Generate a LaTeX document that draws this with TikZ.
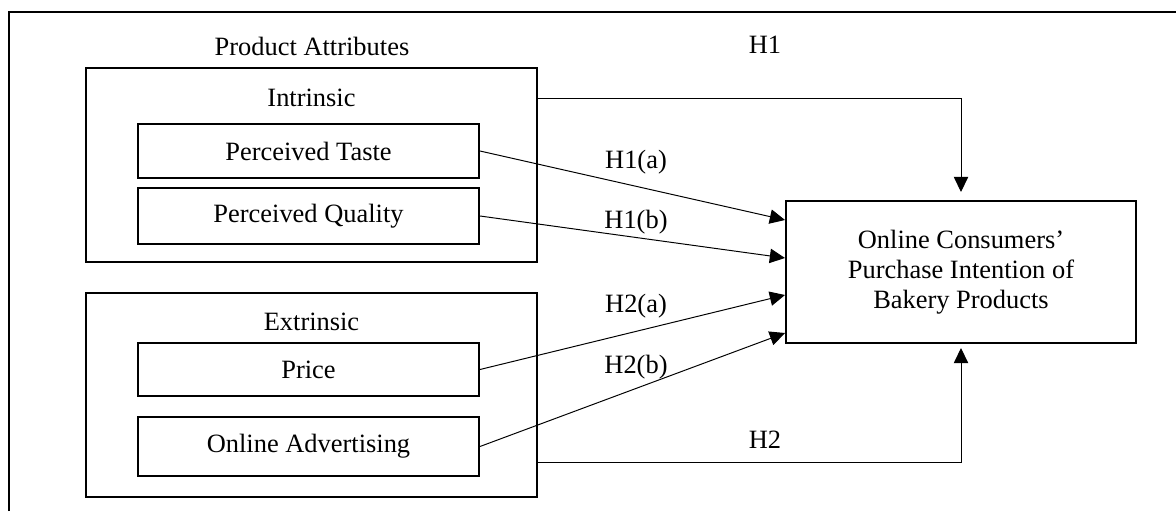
\documentclass[tikz,border=0pt]{standalone}
\usepackage{fontspec}
\setmainfont{Liberation Serif}
\usetikzlibrary{arrows.meta}
\tikzset{
  txt/.style={inner sep=0pt, font=\fontsize{18.8}{21.3}\selectfont},
  groupbox/.style={draw, line width=1.4pt, inner sep=0pt, minimum width=11.275cm},
  attrbox/.style={draw, line width=1.4pt, inner sep=0pt, minimum width=8.525cm},
  hyp/.style={line width=0.7pt, -{Triangle[length=0.38cm,width=0.36cm]}}
}
\begin{document}
\begin{tikzpicture}[every node/.style={txt}]
  \useasboundingbox (0,0) rectangle (29.4,12.775);
  \draw[line width=1.4pt] (0.225,0) -- (0.225,12.475) -- (29.4,12.475);
  \node (attr) at (7.8,11.625) {Product Attributes};

  \node[groupbox, minimum height=4.85cm] (intrinsic) at (7.7875,8.65) {};
  \node (intrtitle) at (7.7875,10.325) {Intrinsic};
  \node[attrbox, minimum height=1.35cm] (taste) at (7.7125,9.0) {Perceived Taste};
  \node[attrbox, minimum height=1.4cm] (quality) at (7.7125,7.375) {Perceived Quality};

  \node[groupbox, minimum height=5.1cm] (extrinsic) at (7.7875,2.9) {};
  \node (extrtitle) at (7.7875,4.725) {Extrinsic};
  \node[attrbox, minimum height=1.325cm] (price) at (7.7125,3.5375) {Price};
  \node[attrbox, minimum height=1.475cm] (advert) at (7.7125,1.6125) {Online Advertising};

  \node[draw, line width=1.4pt, minimum width=8.75cm, minimum height=3.55cm, align=center]
    (intention) at (24.025,5.975) {Online Consumers’\\Purchase Intention of\\Bakery Products};

  \coordinate (h2start) at (13.425,1.225);
  \draw[hyp, shorten >=0.2cm] (intrinsic.east |- intrtitle) -| (intention.north);
  \draw[hyp, shorten >=0.1cm] (h2start) -| (intention.south);
  \draw[hyp] (taste.east) -- ([yshift=1.3cm]intention.west);
  \draw[hyp] (quality.east) -- ([yshift=0.35cm]intention.west);
  \draw[hyp] (price.east) -- ([yshift=-0.575cm]intention.west);
  \draw[hyp] (advert.east) -- ([yshift=-1.525cm]intention.west);

  \node (h1) at (19.125,11.65) {H1};
  \node (h1a) at (15.9,8.725) {H1(a)};
  \node (h1b) at (15.9,7.225) {H1(b)};
  \node (h2a) at (15.9,5.125) {H2(a)};
  \node (h2b) at (15.9,3.6) {H2(b)};
  \node (h2) at (19.125,1.775) {H2};
\end{tikzpicture}
\end{document}
